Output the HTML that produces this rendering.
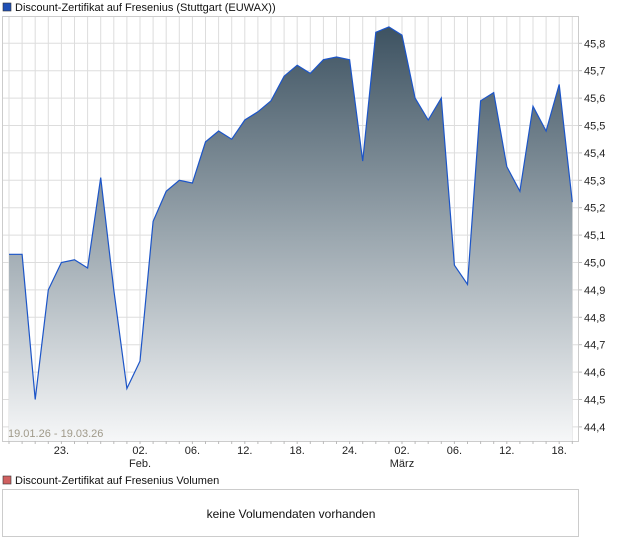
<!DOCTYPE html>
<html><head><meta charset="utf-8"><style>
body{margin:0;background:#fff;width:620px;height:546px;overflow:hidden;font-family:"Liberation Sans",sans-serif;}
svg text{font-family:"Liberation Sans",sans-serif;}
</style></head><body>
<svg id="c" width="620" height="546" xmlns="http://www.w3.org/2000/svg">
<defs><linearGradient id="g" x1="0" y1="0" x2="0" y2="1">
<stop offset="0" stop-color="#3d5261"/><stop offset="0.5" stop-color="#9aa6ae"/><stop offset="1" stop-color="#f6f7f8"/></linearGradient></defs>
<rect x="3" y="3" width="8" height="8" fill="#1f4fb5" stroke="#333" stroke-width="0.6"/>
<text x="15" y="11" font-size="11" fill="#111">Discount-Zertifikat auf Fresenius  (Stuttgart (EUWAX))</text>
<g id="grid"></g>
<path id="area" fill="url(#g)"/>
<path id="line" fill="none" stroke="#1c55c8" stroke-width="1.2"/>
<rect x="2.5" y="16.5" width="576" height="425" fill="none" stroke="#ccc"/>
<g id="yax"></g><g id="xax"></g>
<text x="8" y="437" font-size="11" fill="#a09a8a">19.01.26 - 19.03.26</text>
<rect x="3" y="476" width="8" height="8" fill="#d06060" stroke="#333" stroke-width="0.6"/>
<text x="15" y="484" font-size="11" fill="#111">Discount-Zertifikat auf Fresenius  Volumen</text>
<rect x="2.5" y="489.5" width="576" height="47" fill="#fff" stroke="#ccc"/>
<text x="291" y="518" font-size="12" fill="#111" text-anchor="middle">keine Volumendaten vorhanden</text>
</svg>
<script>
const values=[45.03,45.03,44.50,44.90,45.00,45.01,44.98,45.31,44.90,44.54,44.64,45.15,45.26,45.30,45.29,45.44,45.48,45.45,45.52,45.55,45.59,45.68,45.72,45.69,45.74,45.75,45.74,45.37,45.84,45.86,45.83,45.60,45.52,45.60,44.99,44.92,45.59,45.62,45.35,45.26,45.57,45.48,45.65,45.22];
const yTicks=[44.4,44.5,44.6,44.7,44.8,44.9,45.0,45.1,45.2,45.3,45.4,45.5,45.6,45.7,45.8];
const xTickIdx=[4,10,14,18,22,26,30,34,38,42];
const xTickLabels=["23.","02.","06.","12.","18.","24.","02.","06.","12.","18."];
const monthIdx=[10,30];
const monthLabels=["Feb.","März"];
const NS="http://www.w3.org/2000/svg";
const X=i=>9+i*13.1;
const Y=v=>43.3+(45.8-v)/0.1*27.4;
const grid=document.getElementById('grid'),yax=document.getElementById('yax'),xax=document.getElementById('xax');
function mk(p,t,a){const e=document.createElementNS(NS,t);for(const k in a)e.setAttribute(k,a[k]);p.appendChild(e);return e;}
for(let i=0;i<values.length;i++){
 const l=mk(grid,'line',{x1:X(i),x2:X(i),y1:17,y2:441,stroke:'#ddd'});
 
 
 const t=mk(xax,'line',{x1:X(i),x2:X(i),y1:441,y2:444,stroke:'#bbb'});
 
 
}
yTicks.forEach(v=>{
 const l=mk(grid,'line',{x1:3,x2:579,y1:Y(v),y2:Y(v),stroke:'#ddd'});
 
 
 mk(yax,'line',{x1:579,x2:582,y1:Y(v),y2:Y(v),stroke:'#bbb'});
 const t=mk(yax,'text',{x:584,y:Y(v)+4,'font-size':11,fill:'#222'});
 t.textContent=v.toFixed(1).replace('.',',');
 
 
});
xTickIdx.forEach((i,k)=>{
 const t=mk(xax,'text',{x:X(i),y:454,'font-size':11,fill:'#222','text-anchor':'middle'});
 t.textContent=xTickLabels[k];
 
 
});
monthIdx.forEach((i,k)=>{
 const t=mk(xax,'text',{x:X(i),y:467,'font-size':11,fill:'#222','text-anchor':'middle'});
 t.textContent=monthLabels[k];
 
 
});
let d=values.map((v,i)=>(i?'L':'M')+X(i).toFixed(1)+','+Y(v).toFixed(1)).join('');
document.getElementById('line').setAttribute('d',d);
document.getElementById('area').setAttribute('d',d+'L'+X(values.length-1)+',441L'+X(0)+',441Z');
</script>
</body></html>
